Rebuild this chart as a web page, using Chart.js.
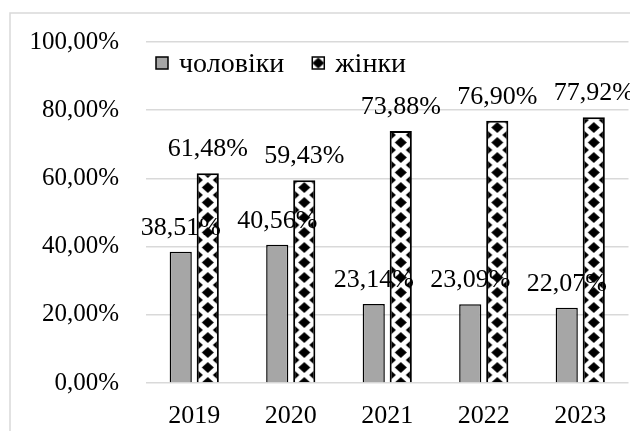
<!DOCTYPE html>
<html>
<head>
<meta charset="utf-8">
<script src="https://cdn.jsdelivr.net/npm/chart.js@4/dist/chart.umd.min.js"></script>
<style>
  html, body { margin: 0; padding: 0; background: #fff; }
  #wrap { width: 630px; height: 431px; }
</style>
</head>
<body>
<div id="wrap"><canvas id="genderChart"></canvas></div>
<script>
const years = ['2019', '2020', '2021', '2022', '2023'];
const menValues = [38.51, 40.56, 23.14, 23.09, 22.07];
const womenValues = [61.48, 59.43, 73.88, 76.90, 77.92];
const yTickLabels = ['0,00%', '20,00%', '40,00%', '60,00%', '80,00%', '100,00%'];
const seriesNames = ['чоловіки', 'жінки'];

const FONT = '"Liberation Serif", "DejaVu Serif", serif';
const catPct = 0.56;

// diamond tile for the "жінки" bars
const tile = document.createElement('canvas');
tile.width = 22;
tile.height = 15;
(function () {
    const t = tile.getContext('2d');
    t.fillStyle = '#fff';
    t.fillRect(0, 0, 22, 15);
    t.fillStyle = '#000';
    const diamond = (cx, cy) => {
        t.beginPath();
        t.moveTo(cx, cy - 5.5);
        t.lineTo(cx + 6, cy);
        t.lineTo(cx, cy + 5.5);
        t.lineTo(cx - 6, cy);
        t.closePath();
        t.fill();
    };
    diamond(11, 7.5);
    diamond(0, 0); diamond(22, 0); diamond(0, 15); diamond(22, 15);
})();

function diamondFill(context) {
    const chart = context.chart;
    const pat = chart.ctx.createPattern(tile, 'repeat');
    const xs = chart.scales && chart.scales.x;
    if (context.dataIndex === undefined || !xs) return pat;
    const catW = (xs.right - xs.left) / years.length;
    const cx = xs.getPixelForValue(context.dataIndex) + catW * catPct / 4;
    pat.setTransform(new DOMMatrix().translate(cx - 11, 0));
    return pat;
}

const fmt = v => v.toFixed(2).replace('.', ',') + '%';

const frame = {
    id: 'frame',
    beforeDraw(chart) {
        const c = chart.ctx;
        c.save();
        c.strokeStyle = '#d9d9d9';
        c.lineWidth = 1.5;
        c.strokeRect(10, 13, 640, 440);
        c.restore();
    }
};

// legend sits inside the plot, top-left
const innerLegend = {
    id: 'innerLegend',
    afterDraw(chart) {
        const c = chart.ctx;
        const area = chart.chartArea;
        c.save();
        c.font = '28px ' + FONT;
        c.textAlign = 'left';
        c.textBaseline = 'middle';
        let x = area.left + 10;
        const y = 63;
        chart.data.datasets.forEach((ds, di) => {
            if (di === 1) {
                const pat = c.createPattern(tile, 'repeat');
                pat.setTransform(new DOMMatrix().translate(x + 6 - 11, y - 7.5));
                c.fillStyle = pat;
            } else {
                c.fillStyle = ds.backgroundColor;
            }
            c.fillRect(x, y - 6, 12, 12);
            c.strokeStyle = '#000';
            c.lineWidth = 1.5;
            c.strokeRect(x, y - 6, 12, 12);
            c.fillStyle = '#000';
            c.fillText(ds.label, x + 23, y + 2);
            x += 23 + c.measureText(ds.label).width + 28;
        });
        c.restore();
    }
};

const valueLabels = {
    id: 'valueLabels',
    afterDatasetsDraw(chart) {
        const c = chart.ctx;
        c.save();
        c.font = '26px ' + FONT;
        c.fillStyle = '#000';
        c.textAlign = 'center';
        c.textBaseline = 'middle';
        chart.data.datasets.forEach((ds, di) => {
            chart.getDatasetMeta(di).data.forEach((bar, i) => {
                c.fillText(fmt(ds.data[i]), bar.x, bar.y - 24);
            });
        });
        c.restore();
    }
};

const ctx = document.getElementById('genderChart').getContext('2d');
new Chart(ctx, {
    type: 'bar',
    data: {
        labels: years,
        datasets: [{
            label: seriesNames[0],
            data: menValues,
            backgroundColor: '#a6a6a6',
            borderColor: '#000',
            borderWidth: 1.5
        }, {
            label: seriesNames[1],
            data: womenValues,
            backgroundColor: diamondFill,
            borderColor: '#000',
            borderWidth: 2
        }]
    },
    options: {
        responsive: true,
        maintainAspectRatio: false,
        animation: false,
        categoryPercentage: catPct,
        barPercentage: 0.82,
        layout: { padding: { left: 0, top: 42, right: 1.5, bottom: 2 } },
        plugins: {
            legend: { display: false },
            tooltip: { enabled: false }
        },
        scales: {
            x: {
                afterFit(scale) { scale.height = 46; },
                grid: { display: false },
                border: { display: false },
                ticks: {
                    color: '#000',
                    padding: 10,
                    font: { family: FONT, size: 26 }
                }
            },
            y: {
                min: 0,
                max: 100,
                afterFit(scale) { scale.width = 146; },
                grid: { color: '#d9d9d9', lineWidth: 1.5, drawTicks: false },
                border: { display: false },
                ticks: {
                    stepSize: 20,
                    padding: 27,
                    color: '#000',
                    font: { family: FONT, size: 25 },
                    callback: (v, i) => yTickLabels[i]
                }
            }
        }
    },
    plugins: [frame, innerLegend, valueLabels]
});
</script>
</body>
</html>
